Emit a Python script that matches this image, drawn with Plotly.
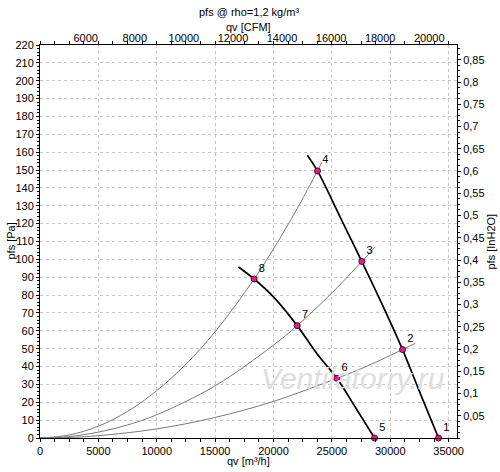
import plotly.graph_objects as go

# fan curves (qv in m3/h, pfs in Pa)
fan_hi_q = [22900, 23770, 25710, 27570, 29420, 31055, 32570, 34140]
fan_hi_p = [158.3, 149.5, 123.7, 98.8, 73.3, 49.5, 25.0, 0.0]
fan_lo_q = [17000, 18340, 20000, 22030, 23710, 25430, 27050, 28655]
fan_lo_p = [95.7, 89.0, 79.0, 62.9, 47.3, 33.4, 16.8, 0.0]

# system curves (thin grey)
sys_a_q = [0, 2500, 5000, 7500, 10000, 12500, 15000, 18340, 21000, 23770, 24140]
sys_a_p = [0, 1.7, 6.6, 14.9, 26.5, 41.3, 59.5, 89.0, 116.7, 149.5, 154.5]
sys_b_q = [0, 2500, 5000, 7500, 10000, 15000, 20000, 22030, 25000, 27570, 28710]
sys_b_p = [0, 0.8, 3.3, 7.3, 13.0, 29.2, 52.0, 62.9, 81.2, 98.8, 107.0]
sys_c_q = [0, 2500, 5000, 10000, 15000, 20000, 25430, 28000, 31055, 32140]
sys_c_p = [0, 0.3, 1.3, 5.1, 11.5, 20.5, 33.4, 40.2, 49.5, 53.0]

# operating points
pt_names = ["1", "2", "3", "4", "5", "6", "7", "8"]
pt_q = [34140, 31055, 27570, 23770, 28655, 25430, 22030, 18340]
pt_p = [0.0, 49.5, 98.8, 149.5, 0.0, 33.4, 62.9, 89.0]

# axis ticks
pa_ticks = list(range(0, 221, 10))
q_ticks = list(range(0, 35001, 5000))
cfm_ticks = [6000, 8000, 10000, 12000, 14000, 16000, 18000, 20000]
inh2o_ticks = [0.05, 0.1, 0.15, 0.2, 0.25, 0.3, 0.35, 0.4, 0.45, 0.5,
               0.55, 0.6, 0.65, 0.7, 0.75, 0.8, 0.85]
inh2o_text = [str(v).replace(".", ",") for v in inh2o_ticks]

PA_PER_INH2O = 249.09
Q_MAX = 35720
P_MAX = 220

fig = go.Figure()

for q, p in [(sys_a_q, sys_a_p), (sys_b_q, sys_b_p), (sys_c_q, sys_c_p)]:
    fig.add_trace(go.Scatter(x=q, y=p, mode="lines", line=dict(color="#7a7a7a", width=1, shape="spline"),
                             hoverinfo="skip"))

for q, p in [(fan_hi_q, fan_hi_p), (fan_lo_q, fan_lo_p)]:
    fig.add_trace(go.Scatter(x=q, y=p, mode="lines", line=dict(color="black", width=1.7, shape="spline"),
                             hoverinfo="skip"))

fig.add_trace(go.Scatter(x=pt_q, y=pt_p, mode="markers+text", text=pt_names, textposition="top right",
                         textfont=dict(size=11, color="black"),
                         marker=dict(size=6, color="#e0207f", line=dict(color="#5a0030", width=1)),
                         cliponaxis=False))

# dummy traces so the secondary axes get drawn
fig.add_trace(go.Scatter(x=[None], y=[None], xaxis="x2", yaxis="y", showlegend=False))
fig.add_trace(go.Scatter(x=[None], y=[None], xaxis="x", yaxis="y2", showlegend=False))

grid = dict(showgrid=True, gridcolor="#c8c8c8", gridwidth=1, griddash="3px,3px")


def label(text, x, y, dx=0, dy=0, angle=0, size=11, color="black", style="normal"):
    return dict(text=text, xref="paper", yref="paper", x=x, y=y, xshift=dx, yshift=dy,
                xanchor="center", yanchor="middle", textangle=angle, showarrow=False,
                font=dict(size=size, color=color, style=style))


fig.update_layout(
    width=500, height=472,
    margin=dict(l=40, r=43, t=45, b=34),
    plot_bgcolor="white", paper_bgcolor="white",
    showlegend=False,
    font=dict(family="Liberation Sans, Arial", size=11, color="black"),
    xaxis=dict(range=[0, Q_MAX], tickvals=q_ticks, ticktext=[str(v) for v in q_ticks],
               showline=True, linecolor="black", linewidth=1, mirror="allticks",
               ticks="outside", ticklen=3, tickcolor="black",
               minor=dict(dtick=1250, ticklen=2, tickcolor="black", ticks="outside"),
               zeroline=False, automargin=False, **grid),
    xaxis2=dict(range=[4136, 21131], overlaying="x", side="top", tickvals=cfm_ticks,
                ticktext=[str(v) for v in cfm_ticks], showgrid=False, zeroline=False,
                ticks="", showline=False, automargin=False),
    yaxis=dict(range=[0, P_MAX], tickvals=pa_ticks, ticktext=[str(v) for v in pa_ticks],
               showline=True, linecolor="black", linewidth=1,
               ticks="outside", ticklen=3, tickcolor="black",
               minor=dict(dtick=2, ticklen=2, tickcolor="black", ticks="outside"),
               zeroline=False, automargin=False, **grid),
    yaxis2=dict(range=[0, P_MAX / PA_PER_INH2O], overlaying="y", side="right",
                tickvals=inh2o_ticks, ticktext=inh2o_text, showgrid=False, zeroline=False,
                showline=True, linecolor="black", linewidth=1,
                ticks="outside", ticklen=3, tickcolor="black", automargin=False,
                minor=dict(dtick=0.0125, ticklen=2, tickcolor="black", ticks="outside")),
    annotations=[
        label("pfs @ rho=1,2 kg/m³", 0.5, 1, dy=33),
        label("qv [CFM]", 0.5, 1, dy=18),
        label("qv [m³/h]", 0.5, 0, dy=-23),
        label("pfs [Pa]", 0, 0.5, dx=-30, angle=-90),
        label("pfs [InH2O]", 1, 0.5, dx=33, angle=-90),
        label("Ventilatorry.ru", 0.75, 0.152, size=30, color="#dedede", style="italic"),
    ],
)

# drop the default 8px page margin so the figure sits at the window corner
fig.write_html("out.html", config={"displayModeBar": False},
               post_script="document.body.style.margin='0px';")
